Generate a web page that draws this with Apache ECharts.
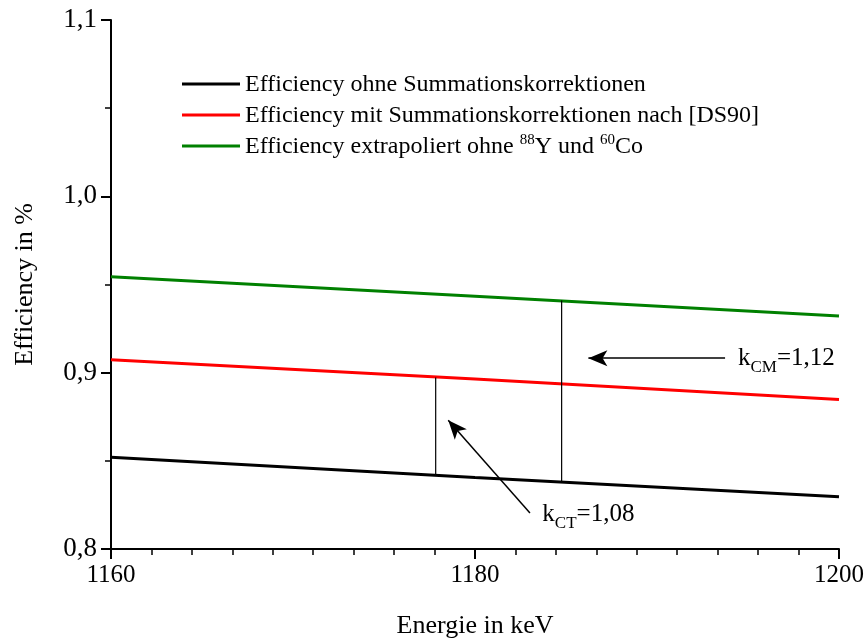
<!DOCTYPE html>
<html>
<head>
<meta charset="utf-8">
<script src="https://cdn.jsdelivr.net/npm/echarts@6/dist/echarts.min.js"></script>
<style>
  html, body { margin: 0; padding: 0; background: #fff; }
  #chart { width: 867px; height: 644px; }
</style>
</head>
<body>
<div id="chart"></div>
<script>
// Detector efficiency around 1160–1200 keV
const energies = [1160, 1180, 1200];
const effOhne = [0.8520, 0.8405, 0.8297];     // without summing corrections
const effMit = [0.9073, 0.8964, 0.8848];      // with summing corrections [DS90]
const effExtra = [0.9544, 0.9434, 0.9321];    // extrapolated without 88Y and 60Co

const yTicks = [0.8, 0.9, 1.0, 1.1];
const xTicks = [1160, 1180, 1200];

// Correction-factor markers: energy, lower and upper efficiency
const kCT = { energy: 1177.84, low: 0.8421, high: 0.8973, label: '1,08' };
const kCM = { energy: 1184.76, low: 0.8377, high: 0.9409, label: '1,12' };

// Arrows pointing at the markers: [from, to]
const arrowCM = [[1193.74, 0.9082], [1186.23, 0.9082]];
const arrowCT = [[1183.02, 0.8204], [1178.53, 0.8730]];

// Label anchors for the correction factors
const labelCM = [1194.45, 0.9066];
const labelCT = [1183.70, 0.8180];

const seriesNames = [
  'Efficiency ohne Summationskorrektionen',
  'Efficiency mit Summationskorrektionen nach [DS90]',
  'Efficiency extrapoliert ohne 88Y und 60Co'
];

const FONT = 'Liberation Serif';
const chart = echarts.init(document.getElementById('chart'), null, { renderer: 'canvas' });

function pairs(ys) { return energies.map((e, i) => [e, ys[i]]); }

const legendRich = {
  n: { fontFamily: FONT, fontSize: 24, color: '#000', lineHeight: 26, verticalAlign: 'bottom' },
  sup: { fontFamily: FONT, fontSize: 15, color: '#000', lineHeight: 16, verticalAlign: 'top' }
};
const kRich = {
  n: { fontFamily: FONT, fontSize: 25, color: '#000', lineHeight: 30, verticalAlign: 'top' },
  sub: { fontFamily: FONT, fontSize: 17, color: '#000', lineHeight: 17, verticalAlign: 'bottom' }
};

function lineSeries(name, ys, color) {
  return {
    name: name, type: 'line', data: pairs(ys), symbol: 'none', showSymbol: false,
    lineStyle: { color: color, width: 3 }, itemStyle: { color: color },
    z: 3, silent: true
  };
}

function markerSeries(k) {
  return {
    type: 'line', data: [[k.energy, k.low], [k.energy, k.high]],
    symbol: 'none', lineStyle: { color: '#000', width: 1.2 }, z: 4, silent: true
  };
}

function arrowSeries(a) {
  return {
    type: 'line', data: [], silent: true,
    markLine: {
      silent: true, symbol: ['none', 'arrow'], symbolSize: [12, 19],
      lineStyle: { color: '#000', width: 1.5, type: 'solid' },
      label: { show: false },
      data: [[{ coord: a[0] }, { coord: a[1] }]]
    }
  };
}

function labelSeries(pos, sub, value) {
  return {
    type: 'scatter', symbolSize: 0, silent: true, data: [pos],
    itemStyle: { opacity: 1, color: 'transparent' },
    label: {
      show: true, position: 'inside', align: 'left', verticalAlign: 'middle',
      color: '#000', opacity: 1,
      formatter: '{n|k}{sub|' + sub + '}{n|=' + value + '}',
      rich: kRich
    }
  };
}

chart.setOption({
  animation: false,
  backgroundColor: '#fff',
  grid: { left: 111, right: 28, top: 20, bottom: 91, containLabel: false },
  legend: {
    data: seriesNames,
    orient: 'vertical',
    left: 177, top: 66,
    icon: 'rect',
    itemWidth: 58, itemHeight: 3, itemGap: 5,
    formatter: function (name) {
      if (name === seriesNames[2]) {
        return '{n|Efficiency extrapoliert ohne }{sup|88}{n|Y und }{sup|60}{n|Co}';
      }
      return '{n|' + name + '}';
    },
    textStyle: { fontFamily: FONT, fontSize: 24, lineHeight: 26, color: '#000', rich: legendRich },
    selectedMode: false
  },
  xAxis: {
    type: 'value', min: 1160, max: 1200, interval: 20,
    name: 'Energie in keV', nameLocation: 'middle', nameGap: 64,
    nameTextStyle: { fontFamily: FONT, fontSize: 26, color: '#000' },
    axisLine: { show: true, onZero: false, lineStyle: { color: '#000', width: 2 } },
    axisTick: { show: true, inside: false, length: 10, lineStyle: { color: '#000', width: 2 } },
    minorTick: { show: true, splitNumber: 9, length: 6, lineStyle: { color: '#000', width: 1.5 } },
    axisLabel: {
      margin: 14, fontFamily: FONT, fontSize: 25, color: '#000',
      formatter: v => xTicks.includes(v) ? String(v) : ''
    },
    splitLine: { show: false }
  },
  yAxis: {
    type: 'value', min: 0.8, max: 1.1, interval: 0.1,
    name: 'Efficiency in %', nameLocation: 'middle', nameGap: 73, nameRotate: 90,
    nameTextStyle: { fontFamily: FONT, fontSize: 26, color: '#000' },
    axisLine: { show: true, onZero: false, lineStyle: { color: '#000', width: 2 } },
    axisTick: { show: true, inside: false, length: 10, lineStyle: { color: '#000', width: 2 } },
    minorTick: { show: true, splitNumber: 2, length: 6, lineStyle: { color: '#000', width: 1.5 } },
    axisLabel: {
      margin: 14, fontFamily: FONT, fontSize: 27, color: '#000',
      formatter: v => {
        const t = yTicks.find(y => Math.abs(y - v) < 1e-6);
        return t === undefined ? '' : t.toFixed(1).replace('.', ',');
      }
    },
    splitLine: { show: false }
  },
  series: [
    lineSeries(seriesNames[0], effOhne, '#000000'),
    lineSeries(seriesNames[1], effMit, '#ff0000'),
    lineSeries(seriesNames[2], effExtra, '#008000'),
    markerSeries(kCT),
    markerSeries(kCM),
    arrowSeries(arrowCM),
    arrowSeries(arrowCT),
    labelSeries(labelCM, 'CM', kCM.label),
    labelSeries(labelCT, 'CT', kCT.label)
  ]
});
</script>
</body>
</html>
